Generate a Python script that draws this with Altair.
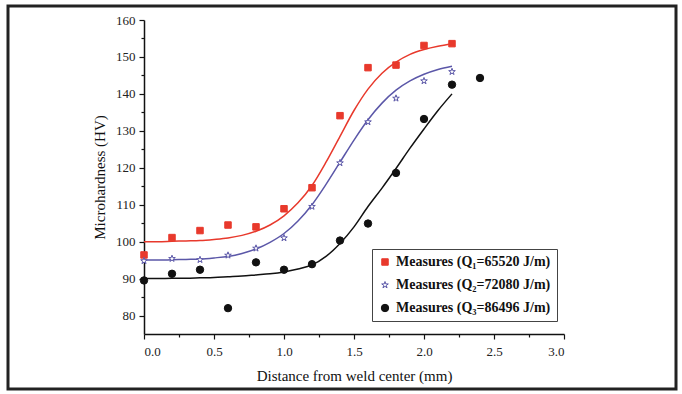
import altair as alt
import pandas as pd

# ---- data ----
x_meas = [0.0, 0.2, 0.4, 0.6, 0.8, 1.0, 1.2, 1.4, 1.6, 1.8, 2.0, 2.2]
q1_meas = [96.4, 101.1, 103.0, 104.5, 104.0, 108.9, 114.6, 134.1, 147.1, 147.8, 153.1, 153.6]
q2_meas = [94.8, 95.4, 95.1, 96.3, 98.2, 101.0, 109.5, 121.3, 132.4, 138.8, 143.5, 146.0]
x_meas3 = [0.0, 0.2, 0.4, 0.6, 0.8, 1.0, 1.2, 1.4, 1.6, 1.8, 2.0, 2.2, 2.4]
q3_meas = [89.5, 91.3, 92.4, 82.0, 94.4, 92.4, 93.9, 100.3, 104.9, 118.6, 133.2, 142.5, 144.3]

x_fit = [0.0, 0.1, 0.2, 0.3, 0.4, 0.5, 0.6, 0.7, 0.8, 0.9, 1.0, 1.1,
         1.2, 1.3, 1.4, 1.5, 1.6, 1.7, 1.8, 1.9, 2.0, 2.1, 2.2]
q1_fit = [100.0, 100.0, 100.1, 100.2, 100.3, 100.6, 101.0, 101.7, 102.8, 104.5, 107.0, 110.5,
          115.2, 121.5, 128.5, 135.5, 141.3, 145.6, 148.6, 150.7, 152.0, 152.9, 153.5]
q2_fit = [95.0, 95.0, 95.1, 95.2, 95.3, 95.6, 96.0, 96.8, 98.0, 99.8, 102.2, 105.6,
          110.0, 115.5, 121.5, 127.5, 133.0, 137.5, 141.0, 143.5, 145.3, 146.6, 147.5]
q3_fit = [90.0, 90.0, 90.1, 90.1, 90.2, 90.3, 90.5, 90.7, 91.0, 91.3, 91.8, 92.6,
          93.7, 96.0, 99.5, 104.0, 109.5, 114.5, 119.8, 125.3, 130.5, 135.5, 140.0]

series = ["Measures (Q\u2081=65520 J/m)", "Measures (Q\u2082=72080 J/m)", "Measures (Q\u2083=86496 J/m)"]
x_ticks = [0.0, 0.5, 1.0, 1.5, 2.0, 2.5, 3.0]
x_minor = [0.25, 0.75, 1.25, 1.75, 2.25, 2.75]
y_ticks = [80, 90, 100, 110, 120, 130, 140, 150, 160]
y_minor = [85, 95, 105, 115, 125, 135, 145, 155]

# ---- styles ----
RED = "#e8392c"
BLUE = "#5b57a8"
BLACK = "#111111"
STAR = ("M0,-1L0.2245,-0.309L0.951,-0.309L0.363,0.118L0.588,0.809L0,0.382"
        "L-0.588,0.809L-0.363,0.118L-0.951,-0.309L-0.2245,-0.309Z")
FONT = "Liberation Serif"

meas = pd.DataFrame(
    {"x": x_meas + x_meas + x_meas3,
     "v": q1_meas + q2_meas + q3_meas,
     "series": [series[0]] * len(x_meas) + [series[1]] * len(x_meas) + [series[2]] * len(x_meas3)}
)
fit = pd.DataFrame(
    {"x": x_fit * 3,
     "v": q1_fit + q2_fit + q3_fit,
     "lc": [RED] * len(x_fit) + [BLUE] * len(x_fit) + [BLACK] * len(x_fit),
     "series": [series[0]] * len(x_fit) + [series[1]] * len(x_fit) + [series[2]] * len(x_fit)}
)

xscale = alt.Scale(domain=[0, 3], nice=False, zero=False)
yscale = alt.Scale(domain=[75, 160], nice=False, zero=False)

major_x = alt.Axis(values=x_ticks, format=".1f", orient="bottom", grid=False, tickSize=5,
                   tickColor="#111", domainColor="#111", domainWidth=1.5, tickWidth=1.2,
                   labelFont=FONT, labelFontSize=13, labelColor="#222", labelPadding=6,
                   title="Distance from weld center (mm)", titleFont=FONT, titleFontSize=15,
                   titleFontWeight="normal", titleColor="#111", titlePadding=10)
major_y = alt.Axis(values=y_ticks, orient="left", grid=False, tickSize=5,
                   tickColor="#111", domainColor="#111", domainWidth=1.5, tickWidth=1.2,
                   labelFont=FONT, labelFontSize=13, labelColor="#222", labelPadding=4,
                   title="Microhardness (HV)", titleFont=FONT, titleFontSize=15,
                   titleFontWeight="normal", titleColor="#111", titlePadding=8)
minor_x = alt.Axis(values=x_minor, orient="bottom", grid=False, tickSize=3, labels=False,
                   domain=False, title=None, tickColor="#111", tickWidth=1.2)
minor_y = alt.Axis(values=y_minor, orient="left", grid=False, tickSize=3, labels=False,
                   domain=False, title=None, tickColor="#111", tickWidth=1.2)

border = alt.Chart(pd.DataFrame({"a": [0]})).mark_rect(
    fillOpacity=0, stroke="#222222", strokeWidth=3
).encode(x=alt.value(-136), x2=alt.value(532), y=alt.value(-14), y2=alt.value(369))

lines = alt.Chart(fit).mark_line(strokeWidth=1.5, interpolate="monotone").encode(
    x=alt.X("x:Q", scale=xscale, axis=minor_x),
    y=alt.Y("v:Q", scale=yscale, axis=minor_y),
    stroke=alt.Stroke("lc:N", scale=None),
    detail="series:N",
)

points = alt.Chart(meas).mark_point(strokeWidth=1.0, opacity=1).encode(
    x=alt.X("x:Q", scale=xscale, axis=major_x),
    y=alt.Y("v:Q", scale=yscale, axis=major_y),
    color=alt.Color("series:N", sort=series,
                    scale=alt.Scale(domain=series, range=[RED, BLUE, BLACK]),
                    legend=alt.Legend(title=None, orient="none", legendX=228, legendY=229,
                                      labelFont=FONT, labelFontSize=14, labelFontWeight="bold",
                                      labelColor="#111", symbolSize=40, rowPadding=9,
                                      padding=6, strokeColor="#444444", fillColor="white",
                                      symbolStrokeWidth=1.0, labelLimit=300, labelOffset=4)),
    fill=alt.Fill("series:N", sort=series,
                  scale=alt.Scale(domain=series, range=[RED, "white", BLACK])),
    shape=alt.Shape("series:N", sort=series,
                    scale=alt.Scale(domain=series, range=["square", STAR, "circle"])),
    size=alt.Size("series:N", sort=series, legend=None,
                  scale=alt.Scale(domain=series, range=[42, 55, 62])),
)

chart = alt.layer(border, lines, points).resolve_axis(
    x="independent", y="independent"
).properties(
    width=420, height=314,
    autosize=alt.AutoSizeParams(type="none"),
    padding={"left": 144, "top": 20, "right": 118, "bottom": 60},
    background="white",
).configure_view(stroke=None)

chart.save("out.html", embed_options={"renderer": "svg", "actions": False})
